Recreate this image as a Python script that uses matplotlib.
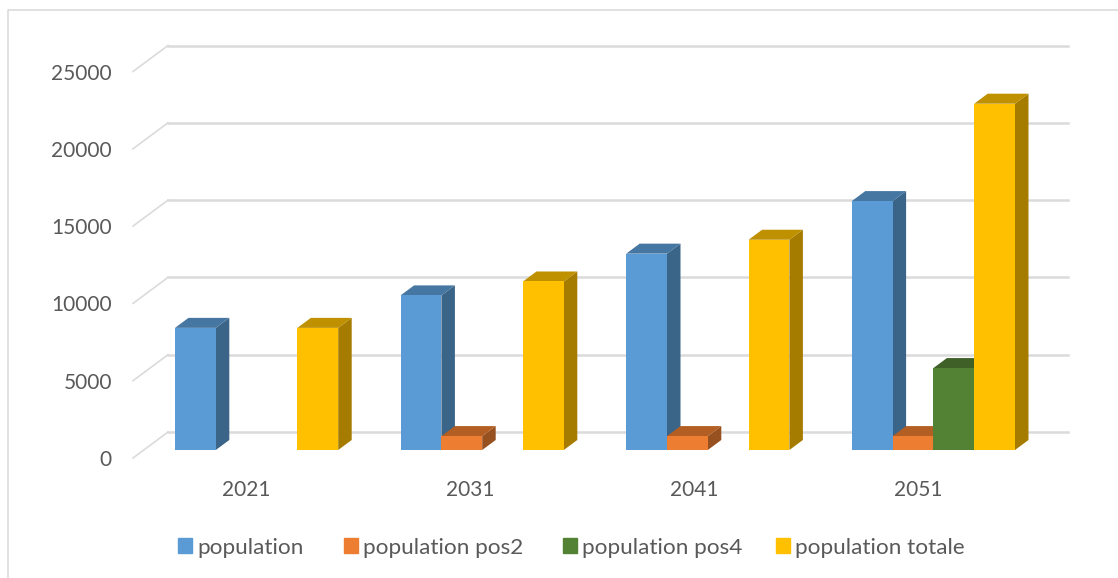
import matplotlib
matplotlib.use("Agg")
import matplotlib.pyplot as plt
from matplotlib.lines import Line2D
from matplotlib.patches import Patch, Polygon

years = ["2021", "2031", "2041", "2051"]
population = [7900, 10000, 12700, 16100]
population_pos2 = [0, 900, 900, 900]
population_pos4 = [0, 0, 0, 5300]
population_totale = [7900, 10900, 13600, 22400]
y_ticks = [0, 5000, 10000, 15000, 20000, 25000]

series = [population, population_pos2, population_pos4, population_totale]
names = ["population", "population pos2", "population pos4", "population totale"]
front_colors = ["#5B9BD5", "#ED7D31", "#548235", "#FFC000"]
side_colors = ["#3A6488", "#97501F", "#37551F", "#A67C00"]
top_colors = ["#4676A2", "#B35E22", "#3F6128", "#BF9000"]

plt.rcParams["font.family"] = ["Lato", "DejaVu Sans"]

W, H = 1118, 578
fig = plt.figure(figsize=(W / 100, H / 100), dpi=100)
ax = fig.add_axes([0, 0, 1, 1])
ax.axis("off")

# scales: one category = 225.6 px, 5000 = 77.3 px, value 0 of the bars at y=450 px
x0 = 256.6
px_x = 225.6
px_y = 77.3 / 5000
ax.set_xlim(-x0 / px_x, (W - x0) / px_x)
ax.set_ylim(-(H - 450) / px_y, 450 / px_y)

bar_w = 40.8 / px_x
dx = 13.5 / px_x
dy = 10 / px_y

# gridlines with the slanted part towards the tick labels
grid_color = "#DBDBDB"
back_x, back_y = (168 - x0) / px_x, 18 / px_y
front_x, front_y = (133 - x0) / px_x, -8 / px_y
end_x = (1068 - x0) / px_x
for v in y_ticks:
    ax.plot([back_x, end_x], [v + back_y, v + back_y], color=grid_color, lw=1.8, zorder=1)
    ax.plot([front_x, back_x], [v + front_y, v + back_y], color=grid_color, lw=1.2, zorder=1)
    ax.text((112 - x0) / px_x, v - 10 / px_y, str(v), ha="right", va="center",
            fontsize=15, color="#595959")

# bars, left to right so later ones cover the depth of earlier ones
z = 2
for i in range(len(years)):
    for s in range(len(series)):
        val = series[s][i]
        if val == 0:
            continue
        left = i + (s - 2) * bar_w
        right = left + bar_w
        ax.add_patch(Polygon([[right, 0], [right + dx, dy], [right + dx, val + dy], [right, val]],
                             color=side_colors[s], lw=0, zorder=z))
        ax.add_patch(Polygon([[left, val], [left + dx, val + dy], [right + dx, val + dy], [right, val]],
                             color=top_colors[s], lw=0, zorder=z))
        ax.bar(left, val, width=bar_w, align="edge", color=front_colors[s], zorder=z)
        z += 1
    ax.text(i + (-10.6 - 1.6 * i) / px_x, -40 / px_y, years[i], ha="center", va="center",
            fontsize=15, color="#595959")

# one legend per entry, the gaps between entries are not even in the original
legend_left = [178, 344, 563, 776]
for s in range(len(names)):
    leg = ax.legend([Patch(color=front_colors[s])], [names[s]], frameon=False, fontsize=16.2,
                    labelcolor="#595959", loc="center left",
                    bbox_to_anchor=(legend_left[s] / W, 1 - 547.5 / H), handlelength=0.62,
                    handleheight=0.62, handletextpad=0.22, borderpad=0, borderaxespad=0)
    # the last one stays as the axes legend, adding it too would draw it twice
    if s < len(names) - 1:
        ax.add_artist(leg)

# outer frame of the chart area, only left and top show
frame_color = "#D9D9D9"
fig.add_artist(Line2D([7.5 / W, 7.5 / W, 1], [0, 1 - 9.5 / H, 1 - 9.5 / H],
                      color=frame_color, lw=1.1))

fig.savefig("out.png", dpi=100)
